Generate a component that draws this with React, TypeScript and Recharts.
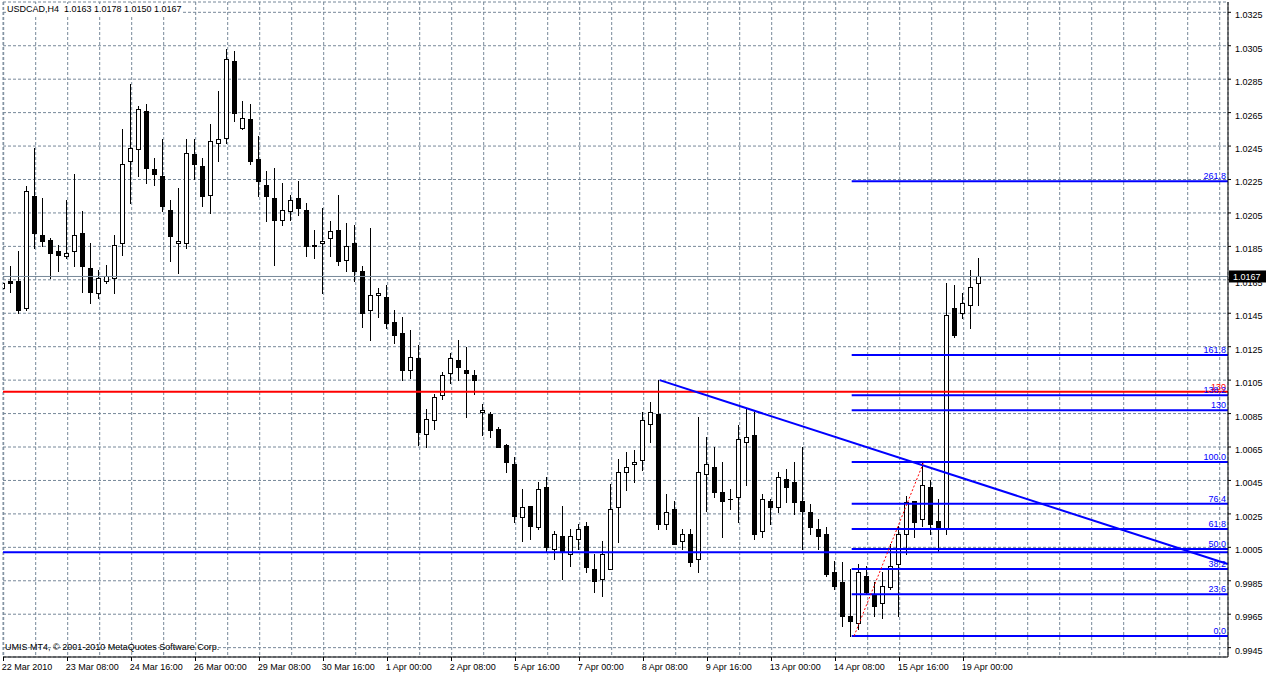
import React from 'react';
import { ComposedChart, Bar, XAxis, YAxis, CartesianGrid, ReferenceLine } from 'recharts';

// USDCAD H4, 22 Mar 2010 .. 19 Apr 2010 08:00 (one entry per 4h bar)
const opens = [
  1.0160, 1.0164, 1.0164, 1.0148, 1.0215, 1.0192, 1.0189, 1.0182, 1.0179, 1.0182,
  1.0193, 1.0172, 1.0157, 1.0164, 1.0166, 1.0187, 1.0236, 1.0243, 1.0266, 1.0231,
  1.0227, 1.0207, 1.0187, 1.0187, 1.0240, 1.0233, 1.0216, 1.0247, 1.0250, 1.0296,
  1.0256, 1.0261, 1.0237, 1.0222, 1.0214, 1.0201, 1.0206, 1.0214, 1.0207, 1.0186,
  1.0187, 1.0190, 1.0195, 1.0177, 1.0187, 1.0170, 1.0147, 1.0156, 1.0155, 1.0140,
  1.0133, 1.0111, 1.0118, 1.0073, 1.0081, 1.0096, 1.0109, 1.0117, 1.0111, 1.0108,
  1.0086, 1.0085, 1.0076, 1.0066, 1.0055, 1.0023, 1.0030, 1.0017, 1.0041, 1.0004,
  1.0012, 1.0001, 1.0010, 1.0018, 0.9992, 0.9986, 0.9992, 1.0029, 1.0050, 1.0055,
  1.0057, 1.0079, 1.0085, 1.0019, 1.0028, 1.0009, 1.0013, 0.9998, 1.0049, 1.0053,
  1.0038, 1.0034, 1.0035, 1.0068, 1.0072, 1.0015, 1.0033, 1.0029, 1.0046, 1.0044,
  1.0033, 1.0026, 1.0016, 1.0013, 0.9990, 0.9984, 0.9964, 0.9960, 0.9988, 0.9977,
  0.9972, 0.9981, 0.9995, 1.0013, 1.0033, 1.0022, 1.0041, 1.0021, 1.0016, 1.0148,
  1.0145, 1.0150, 1.0163,
];
const highs = [
  1.0174, 1.0173, 1.0182, 1.0221, 1.0244, 1.0214, 1.0190, 1.0186, 1.0213, 1.0228,
  1.0206, 1.0187, 1.0171, 1.0174, 1.0192, 1.0255, 1.0282, 1.0269, 1.0270, 1.0238,
  1.0249, 1.0213, 1.0220, 1.0249, 1.0249, 1.0238, 1.0258, 1.0278, 1.0303, 1.0302,
  1.0272, 1.0270, 1.0251, 1.0230, 1.0232, 1.0223, 1.0216, 1.0224, 1.0211, 1.0195,
  1.0208, 1.0200, 1.0216, 1.0199, 1.0198, 1.0173, 1.0196, 1.0160, 1.0162, 1.0147,
  1.0143, 1.0135, 1.0126, 1.0088, 1.0097, 1.0110, 1.0121, 1.0129, 1.0125, 1.0111,
  1.0091, 1.0086, 1.0077, 1.0067, 1.0059, 1.0040, 1.0030, 1.0044, 1.0047, 1.0015,
  1.0030, 1.0016, 1.0019, 1.0020, 1.0001, 1.0009, 1.0043, 1.0058, 1.0062, 1.0063,
  1.0086, 1.0092, 1.0105, 1.0037, 1.0033, 1.0016, 1.0016, 1.0083, 1.0071, 1.0065,
  1.0056, 1.0040, 1.0078, 1.0088, 1.0086, 1.0037, 1.0034, 1.0050, 1.0052, 1.0056,
  1.0065, 1.0031, 1.0022, 1.0017, 0.9997, 0.9996, 0.9992, 0.9995, 0.9994, 0.9984,
  0.9990, 1.0007, 1.0018, 1.0036, 1.0033, 1.0056, 1.0045, 1.0034, 1.0163, 1.0162,
  1.0157, 1.0171, 1.0178,
];
const lows = [
  1.0159, 1.0158, 1.0145, 1.0147, 1.0184, 1.0185, 1.0166, 1.0170, 1.0178, 1.0173,
  1.0158, 1.0151, 1.0154, 1.0163, 1.0157, 1.0180, 1.0211, 1.0227, 1.0223, 1.0222,
  1.0206, 1.0176, 1.0169, 1.0184, 1.0225, 1.0209, 1.0205, 1.0236, 1.0247, 1.0260,
  1.0255, 1.0234, 1.0215, 1.0200, 1.0174, 1.0198, 1.0201, 1.0204, 1.0179, 1.0178,
  1.0157, 1.0179, 1.0174, 1.0170, 1.0164, 1.0137, 1.0129, 1.0143, 1.0136, 1.0127,
  1.0105, 1.0106, 1.0066, 1.0065, 1.0076, 1.0094, 1.0103, 1.0105, 1.0083, 1.0097,
  1.0072, 1.0071, 1.0065, 1.0050, 1.0020, 1.0009, 1.0010, 1.0016, 1.0002, 0.9998,
  0.9986, 0.9994, 1.0004, 0.9990, 0.9978, 0.9976, 0.9992, 1.0008, 1.0039, 1.0044,
  1.0051, 1.0068, 1.0016, 1.0016, 1.0007, 1.0004, 0.9994, 0.9990, 1.0027, 1.0035,
  1.0011, 1.0028, 1.0020, 1.0042, 1.0010, 1.0011, 1.0019, 1.0026, 1.0032, 1.0025,
  1.0004, 1.0013, 1.0004, 0.9988, 0.9980, 0.9958, 0.9952, 0.9956, 0.9977, 0.9964,
  0.9963, 0.9980, 0.9964, 1.0001, 1.0011, 1.0018, 1.0013, 1.0002, 1.0013, 1.0131,
  1.0142, 1.0136, 1.0150,
];
const closes = [
  1.0163, 1.0163, 1.0147, 1.0218, 1.0193, 1.0188, 1.0181, 1.0180, 1.0181, 1.0192,
  1.0173, 1.0158, 1.0166, 1.0167, 1.0186, 1.0234, 1.0244, 1.0267, 1.0232, 1.0228,
  1.0209, 1.0191, 1.0188, 1.0241, 1.0234, 1.0215, 1.0248, 1.0249, 1.0297, 1.0265,
  1.0262, 1.0236, 1.0224, 1.0215, 1.0201, 1.0207, 1.0213, 1.0208, 1.0185, 1.0185,
  1.0188, 1.0194, 1.0176, 1.0185, 1.0170, 1.0145, 1.0156, 1.0157, 1.0139, 1.0132,
  1.0111, 1.0119, 1.0074, 1.0082, 1.0095, 1.0108, 1.0118, 1.0113, 1.0109, 1.0105,
  1.0087, 1.0075, 1.0065, 1.0056, 1.0024, 1.0029, 1.0018, 1.0040, 1.0005, 1.0013,
  1.0002, 1.0012, 1.0016, 0.9993, 0.9985, 1.0001, 1.0028, 1.0050, 1.0053, 1.0056,
  1.0081, 1.0086, 1.0019, 1.0026, 1.0007, 1.0013, 0.9996, 1.0050, 1.0055, 1.0038,
  1.0033, 1.0034, 1.0070, 1.0071, 1.0013, 1.0034, 1.0029, 1.0047, 1.0041, 1.0032,
  1.0027, 1.0017, 1.0012, 0.9989, 0.9982, 0.9964, 0.9961, 0.9990, 0.9978, 0.9970,
  0.9982, 0.9994, 1.0013, 1.0032, 1.0020, 1.0042, 1.0019, 1.0017, 1.0144, 1.0132,
  1.0151, 1.0161, 1.0167,
];

// one time label every 8 bars
const timeLabels = [
  '22 Mar 2010', '23 Mar 08:00', '24 Mar 16:00', '26 Mar 00:00', '29 Mar 08:00',
  '30 Mar 16:00', '1 Apr 00:00', '2 Apr 08:00', '5 Apr 16:00', '7 Apr 00:00',
  '8 Apr 08:00', '9 Apr 16:00', '13 Apr 00:00', '14 Apr 08:00', '15 Apr 16:00',
  '19 Apr 00:00',
];

const priceTicks = [
  1.0325, 1.0305, 1.0285, 1.0265, 1.0245, 1.0225, 1.0205, 1.0185, 1.0165, 1.0145,
  1.0125, 1.0105, 1.0085, 1.0065, 1.0045, 1.0025, 1.0005, 0.9985, 0.9965, 0.9945,
];

const fibLabels = ['0.0', '23.6', '38.2', '50.0', '61.8', '76.4', '100.0', '130', '138.2', '161.8', '261.8'];
const fibPrices = [0.9952, 0.9977, 0.9992, 1.0004, 1.0016, 1.0031, 1.0056, 1.0087, 1.0096, 1.0120, 1.0224];
const fibFromBar = 106;

const redLevel = 1.0098;
const supportLevel = 1.0002;
const lastPrice = 1.0167;

const trendLine = [{ x: 82, y: 1.0105 }, { x: 153, y: 0.9995 }];
const fibAnchor = [{ x: 106.3, y: 0.9952 }, { x: 115, y: 1.0056 }];

const X_MIN = -0.0875;
const X_MAX = 153.0375;
const Y_MIN = 0.993941;
const Y_MAX = 1.033116;

const gridBars = Array.from({ length: 39 }, (_, k) => k * 4);

const data = opens.map((o, i) => ({ i, o, h: highs[i], l: lows[i], c: closes[i] }));

const GRID = '#778899';
const BLUE = '#0000ff';
const FONT = "'Liberation Sans', Arial, sans-serif";

function Candle(props: any) {
  const { x, y, width, height, payload } = props;
  if (payload == null || x == null || y == null) return <g />;
  const { o, h, l, c } = payload;
  const top0 = Math.min(y, y + height);
  const hh = Math.abs(height);
  const cx = Math.round(x + width / 2) - 0.5;
  const py = (v: number) => (h === l ? top0 : top0 + ((h - v) / (h - l)) * hh);
  const bTop = Math.round(py(Math.max(o, c))) + 0.5;
  const bBot = Math.round(py(Math.min(o, c))) + 0.5;
  const up = c >= o;
  return (
    <g shapeRendering="crispEdges">
      <line x1={cx} x2={cx} y1={Math.round(top0)} y2={Math.round(top0 + hh) + 1} stroke="#000" />
      {bBot - bTop < 1 ? (
        <line x1={cx - 2.5} x2={cx + 2.5} y1={bTop} y2={bTop} stroke="#000" />
      ) : (
        <rect x={cx - 2} y={bTop} width={4} height={bBot - bTop} fill={up ? '#fff' : '#000'} stroke="#000" />
      )}
    </g>
  );
}

function TimeTick(props: any) {
  const { x, y, payload } = props;
  const v = payload?.value;
  if (v == null || v % 8 !== 0) return <g />;
  const label = timeLabels[v / 8];
  if (!label) return <g />;
  const tx = Math.round(x) - 0.5;
  return (
    <g>
      <line x1={tx} x2={tx} y1={y} y2={y + 4} stroke="#000" shapeRendering="crispEdges" />
      <text x={x - 2} y={y + 13} fontSize={9} fill="#000" fontFamily={FONT}>
        {label}
      </text>
    </g>
  );
}

function PriceTick(props: any) {
  const { x, y, payload } = props;
  return (
    <text x={x} y={y + 6} fontSize={9} fill="#000" fontFamily={FONT}>
      {Number(payload.value).toFixed(4)}
    </text>
  );
}

function LastPriceTag(props: any) {
  const vb = props?.viewBox;
  if (!vb || vb.y == null) return <g />;
  const left = vb.x + vb.width + 1;
  return (
    <g>
      <rect x={left} y={vb.y - 6} width={37} height={12} fill="#000" />
      <text x={left + 4} y={vb.y + 4} fontSize={9} fill="#fff" fontFamily={FONT}>
        {lastPrice.toFixed(4)}
      </text>
    </g>
  );
}

export default function App() {
  return (
    <div style={{ position: 'absolute', left: 0, top: 0, width: 1266, height: 674, background: '#fff', fontFamily: FONT }}>
      <ComposedChart width={1266} height={674} data={data} margin={{ top: 2, right: 0, bottom: 0, left: 3 }}>
        <CartesianGrid stroke={GRID} strokeDasharray="3 2" />
        <XAxis
          dataKey="i"
          type="number"
          domain={[X_MIN, X_MAX]}
          allowDataOverflow
          ticks={gridBars}
          interval={0}
          height={17}
          tickSize={0}
          tickMargin={0}
          tickLine={false}
          axisLine={{ stroke: '#000' }}
          tick={<TimeTick />}
        />
        <YAxis
          orientation="right"
          type="number"
          domain={[Y_MIN, Y_MAX]}
          allowDataOverflow
          ticks={priceTicks}
          interval={0}
          width={38}
          tickSize={3}
          tickMargin={4}
          axisLine={{ stroke: '#000' }}
          tickLine={{ stroke: '#000' }}
          tick={<PriceTick />}
        />
        <Bar dataKey={(d: any) => [d.l, d.h]} shape={<Candle />} barSize={8} isAnimationActive={false} />
        <ReferenceLine y={lastPrice} stroke={GRID} strokeWidth={1} label={<LastPriceTag />} />
        <ReferenceLine
          y={redLevel}
          stroke="#ff0000"
          strokeWidth={2}
          label={{ value: '130', position: 'insideBottomRight', offset: 2, fill: '#ff0000', fontSize: 9 }}
        />
        <ReferenceLine y={supportLevel} stroke={BLUE} strokeWidth={2} />
        {fibPrices.map((p, k) => (
          <ReferenceLine
            key={fibLabels[k]}
            segment={[{ x: fibFromBar, y: p }, { x: X_MAX - 0.01, y: p }]}
            stroke={BLUE}
            strokeWidth={2}
            label={{ value: fibLabels[k], position: 'insideBottomRight', offset: 2, fill: BLUE, fontSize: 9 }}
          />
        ))}
        <ReferenceLine segment={trendLine} stroke={BLUE} strokeWidth={2} />
        <ReferenceLine segment={fibAnchor} stroke="#ff0000" strokeWidth={1} strokeDasharray="2 2" />
      </ComposedChart>
      <div style={{ position: 'absolute', left: 7, top: 4, fontSize: 9, lineHeight: '11px', background: '#fff', whiteSpace: 'pre' }}>
        {'USDCAD,H4  1.0163 1.0178 1.0150 1.0167'}
      </div>
      <div style={{ position: 'absolute', left: 5, top: 642, fontSize: 9, lineHeight: '11px', whiteSpace: 'pre' }}>
        {'UMIS MT4, © 2001-2010 MetaQuotes Software Corp.'}
      </div>
    </div>
  );
}
